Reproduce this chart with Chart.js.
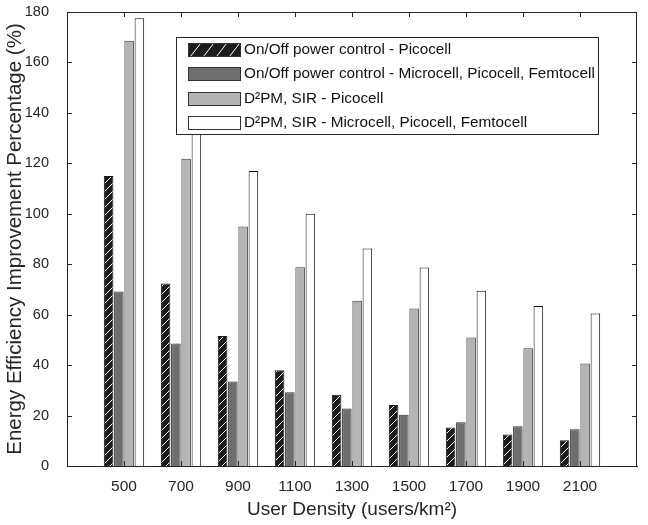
<!DOCTYPE html>
<html>
<head>
<meta charset="utf-8">
<script src="https://cdn.jsdelivr.net/npm/chart.js@4.4.1/dist/chart.umd.min.js"></script>
<style>
  body { margin: 0; background: #fff; }
  #wrap { width: 648px; height: 525px; }
</style>
</head>
<body>
<div id="wrap"><canvas id="chart" width="648" height="525"></canvas></div>
<script>
// user density categories (users/km^2)
const densities = [500, 700, 900, 1100, 1300, 1500, 1700, 1900, 2100];

// energy efficiency improvement (%)
const onOffPico = [115, 72.4, 51.5, 38, 28.2, 24.2, 15.3, 12.5, 10.2];
const onOffHet = [69.2, 48.6, 33.5, 29.2, 22.8, 20.3, 17.3, 15.8, 14.6];
const d2pmPico = [168.6, 121.8, 95, 78.8, 65.5, 62.4, 50.9, 46.7, 40.6];
const d2pmHet = [177.5, 140, 117, 100, 86.2, 78.7, 69.5, 63.4, 60.5];

const seriesNames = [
  'On/Off power control - Picocell',
  'On/Off power control - Microcell, Picocell, Femtocell',
  'D\u00b2PM, SIR - Picocell',
  'D\u00b2PM, SIR - Microcell, Picocell, Femtocell'
];

const yTicks = [0, 20, 40, 60, 80, 100, 120, 140, 160, 180];

const FONT = '"Liberation Sans", Arial, Helvetica, sans-serif';
const AXIS = '#262626';

// matlab style: one empty slot on each side of the categories
const labels = [''].concat(densities.map(String), ['']);
function pad(arr) { return [null].concat(arr, [null]); }

// hatch fill for the first series
function makeHatch() {
  const c = document.createElement('canvas');
  c.width = 8; c.height = 8;
  const g = c.getContext('2d');
  g.fillStyle = '#1c1c1c';
  g.fillRect(0, 0, 8, 8);
  g.strokeStyle = '#ffffff';
  g.lineWidth = 1;
  g.beginPath();
  g.moveTo(0, 8); g.lineTo(8, 0);
  g.moveTo(-1, 1); g.lineTo(1, -1);
  g.moveTo(7, 9); g.lineTo(9, 7);
  g.stroke();
  return g.createPattern(c, 'repeat');
}
const hatch = makeHatch();

const fills = [hatch, '#6e6e6e', '#b4b4b4', '#ffffff'];
const edges = ['#1a1a1a', '#2e2e2e', '#3c3c3c', '#111111'];

// box + inward ticks on all four sides
const framePlugin = {
  id: 'frame',
  afterDraw(chart) {
    const ctx = chart.ctx;
    const a = chart.chartArea;
    const xs = chart.scales.x, ys = chart.scales.y;
    ctx.save();
    ctx.strokeStyle = AXIS;
    ctx.lineWidth = 1;
    ctx.beginPath();
    ctx.moveTo(a.left, Math.round(a.top) + 0.5);
    ctx.lineTo(a.right, Math.round(a.top) + 0.5);
    ctx.moveTo(Math.round(a.right) - 0.5, a.top);
    ctx.lineTo(Math.round(a.right) - 0.5, a.bottom);
    densities.forEach(function(d, i) {
      const px = Math.round(xs.getPixelForValue(i + 1)) + 0.5;
      ctx.moveTo(px, a.top); ctx.lineTo(px, a.top + 5);
      ctx.moveTo(px, a.bottom); ctx.lineTo(px, a.bottom - 5);
    });
    yTicks.forEach(function(v) {
      const py = Math.round(ys.getPixelForValue(v)) + 0.5;
      ctx.moveTo(a.left, py); ctx.lineTo(a.left + 5, py);
      ctx.moveTo(a.right, py); ctx.lineTo(a.right - 5, py);
    });
    ctx.stroke();
    ctx.restore();
  }
};

// legend box inside the axes, like the matlab one
const legendPlugin = {
  id: 'boxLegend',
  afterDraw(chart) {
    const ctx = chart.ctx;
    const bx = 176.5, by = 37.5, bw = 422, bh = 97;
    ctx.save();
    ctx.fillStyle = '#fff';
    ctx.fillRect(bx, by, bw, bh);
    ctx.strokeStyle = '#262626';
    ctx.lineWidth = 1;
    ctx.strokeRect(bx, by, bw, bh);
    const rowY = [49, 73, 98, 122];
    const sx = 188.5, sw = 52, sh = 13;
    ctx.font = '15.3px ' + FONT;
    ctx.textBaseline = 'middle';
    seriesNames.forEach(function(name, i) {
      const top = Math.round(rowY[i] - sh / 2) + 0.5;
      if (i === 0) {
        ctx.fillStyle = '#1c1c1c';
        ctx.fillRect(sx, top, sw, sh);
        ctx.save();
        ctx.beginPath();
        ctx.rect(sx, top, sw, sh);
        ctx.clip();
        ctx.strokeStyle = '#fff';
        ctx.beginPath();
        for (let k = 0; k < 5; k++) {
          const x0 = sx + 2 + k * 13;
          ctx.moveTo(x0, top + sh);
          ctx.lineTo(x0 + 10, top);
        }
        ctx.stroke();
        ctx.restore();
      } else {
        ctx.fillStyle = fills[i];
        ctx.fillRect(sx, top, sw, sh);
      }
      ctx.strokeStyle = '#333';
      ctx.strokeRect(sx, top, sw, sh);
      ctx.fillStyle = '#111';
      ctx.fillText(name, 244, rowY[i] + 1);
    });
    ctx.restore();
  }
};

const datasets = [onOffPico, onOffHet, d2pmPico, d2pmHet].map(function(vals, i) {
  return {
    label: seriesNames[i],
    data: pad(vals),
    backgroundColor: fills[i],
    borderColor: edges[i],
    borderWidth: 1,
    borderSkipped: 'bottom',
    categoryPercentage: 0.72,
    barPercentage: 0.93
  };
});

new Chart(document.getElementById('chart'), {
  type: 'bar',
  data: { labels: labels, datasets: datasets },
  options: {
    responsive: false,
    devicePixelRatio: 1,
    animation: false,
    layout: { padding: { top: 12, right: 11, left: 0, bottom: 0 } },
    plugins: {
      legend: { display: false },
      tooltip: { enabled: false }
    },
    scales: {
      x: {
        offset: false,
        grid: { display: false },
        border: { display: true, color: AXIS },
        ticks: {
          autoSkip: false, maxRotation: 0, minRotation: 0,
          color: AXIS, font: { family: FONT, size: 15.5 }, padding: 3
        },
        title: {
          display: true, text: 'User Density (users/km\u00b2)',
          color: AXIS, font: { family: FONT, size: 19 }, padding: { top: 5 }
        },
        afterFit: function(s) { s.height = 59; }
      },
      y: {
        min: 0, max: 180,
        grid: { display: false },
        border: { display: true, color: AXIS },
        ticks: {
          stepSize: 20, color: AXIS,
          font: { family: FONT, size: 14.5 }, padding: 10
        },
        title: {
          display: true, text: 'Energy Efficiency Improvement Percentage (%)',
          color: AXIS, font: { family: FONT, size: 20.5 }, padding: { top: 3, bottom: 0 }
        },
        afterFit: function(s) {
          s.width = 67;
          s.paddingTop = 0;
          s.paddingBottom = 0;
        }
      }
    }
  },
  plugins: [framePlugin, legendPlugin]
});
</script>
</body>
</html>
